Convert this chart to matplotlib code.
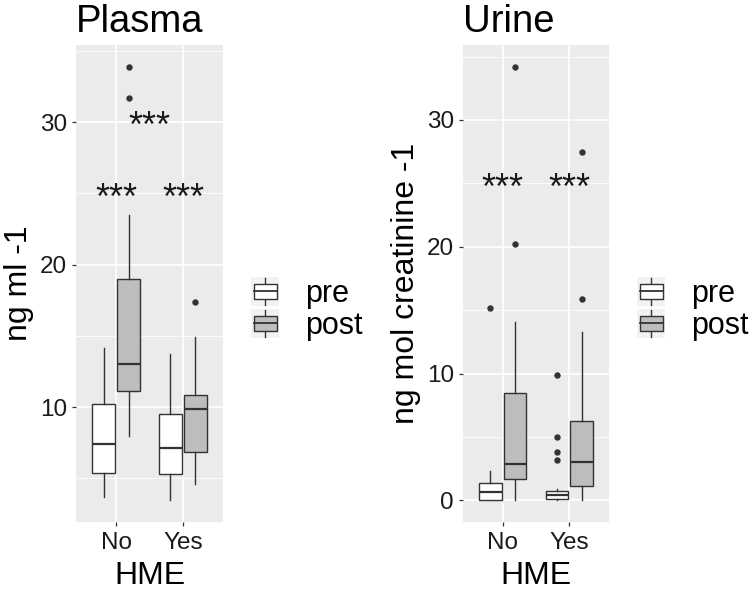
import matplotlib
matplotlib.use("Agg")
import matplotlib.pyplot as plt
from matplotlib.legend_handler import HandlerBase
from matplotlib.patches import Rectangle
from matplotlib.lines import Line2D
from matplotlib.ticker import MultipleLocator

plt.rcParams["font.family"] = ["Liberation Sans", "DejaVu Sans"]

# --- данные ---
categories = ["No", "Yes"]
groups = ["pre", "post"]
group_fill = {"pre": "#FFFFFF", "post": "#BDBDBD"}

# (whislo, q1, med, q3, whishi)
plasma_box = {
    ("No", "pre"): (3.7, 5.4, 7.4, 10.2, 14.15),
    ("No", "post"): (8.0, 11.1, 13.0, 19.0, 23.5),
    ("Yes", "pre"): (3.45, 5.3, 7.1, 9.5, 13.7),
    ("Yes", "post"): (4.6, 6.85, 9.85, 10.85, 14.9),
}
plasma_out = {
    ("No", "pre"): [],
    ("No", "post"): [33.9, 31.7],
    ("Yes", "pre"): [],
    ("Yes", "post"): [17.4],
}
plasma_stars = [(1.0, 25.4), (2.0, 25.4), (1.5, 30.4)]

urine_box = {
    ("No", "pre"): (0.05, 0.05, 0.65, 1.4, 2.3),
    ("No", "post"): (0.0, 1.65, 2.9, 8.5, 14.1),
    ("Yes", "pre"): (0.0, 0.08, 0.42, 0.73, 0.87),
    ("Yes", "post"): (0.0, 1.1, 3.0, 6.25, 13.25),
}
urine_out = {
    ("No", "pre"): [15.2],
    ("No", "post"): [34.2, 20.2],
    ("Yes", "pre"): [9.9, 5.0, 3.8, 3.2],
    ("Yes", "post"): [27.5, 15.9],
}
urine_stars = [(1.0, 25.45), (2.0, 25.45)]

PANEL_BG = "#EBEBEB"
LINE = "#333333"
TXT = "#1A1A1A"


class BoxKeyHandler(HandlerBase):
    """Ключ легенды в виде маленького боксплота (как в ggplot2)."""

    def create_artists(self, legend, orig_handle, xdescent, ydescent,
                       width, height, fontsize, trans):
        x0, y0 = -xdescent, -ydescent
        bg = Rectangle((x0, y0), width, height, fc="#F2F2F2", ec="none",
                       transform=trans)
        mx = width * 0.09
        box = Rectangle((x0 + mx, y0 + height * 0.235), width - 2 * mx,
                        height * 0.53, fc=orig_handle.get_facecolor(),
                        ec=LINE, lw=1.0, transform=trans)
        cx = x0 + width / 2
        wl = Line2D([cx, cx], [y0 + height * 0.04, y0 + height * 0.235],
                    color=LINE, lw=1.0, transform=trans)
        wh = Line2D([cx, cx], [y0 + height * 0.765, y0 + height * 0.96],
                    color=LINE, lw=1.0, transform=trans)
        med = Line2D([x0 + mx, x0 + width - mx], [y0 + height / 2] * 2,
                     color=LINE, lw=1.3, transform=trans)
        return [bg, wl, wh, box, med]


def draw_panel(ax, boxes, outliers, stars, title, ylabel, leg_anchor, fig):
    dodge = 0.75 / 2
    width = 0.75 * 0.9 / 2
    allvals = []
    for i, cat in enumerate(categories, start=1):
        for j, g in enumerate(groups):
            lo, q1, med, q3, hi = boxes[(cat, g)]
            fl = outliers[(cat, g)]
            allvals += [lo, hi] + fl
            pos = i + (j - 0.5) * dodge
            st = dict(whislo=lo, q1=q1, med=med, q3=q3, whishi=hi, fliers=fl)
            ax.bxp([st], positions=[pos], widths=width,
                   patch_artist=True, showcaps=False, manage_ticks=False,
                   boxprops=dict(facecolor=group_fill[g], edgecolor=LINE, lw=1.0),
                   whiskerprops=dict(color=LINE, lw=1.0),
                   medianprops=dict(color=LINE, lw=1.6),
                   flierprops=dict(marker="o", markerfacecolor=LINE,
                                   markeredgecolor=LINE, markersize=3.6))

    for x, y in stars:
        ax.annotate("***", (x, y), xytext=(0, -15), textcoords="offset points",
                    ha="center", va="baseline", fontsize=26, color=TXT, zorder=5)

    lo, hi = min(allvals), max(allvals)
    pad = (hi - lo) * 0.05
    ax.set_ylim(lo - pad, hi + pad)
    ax.set_xlim(0.4, 2.6)

    ax.set_facecolor(PANEL_BG)
    for s in ax.spines.values():
        s.set_visible(False)
    ax.yaxis.set_major_locator(MultipleLocator(10))
    ax.yaxis.set_minor_locator(MultipleLocator(5))
    ax.set_xticks([1, 2])
    ax.set_xticklabels(categories)
    ax.grid(which="major", color="white", lw=1.2, zorder=0)
    ax.grid(which="minor", axis="y", color="white", lw=0.6, zorder=0)
    ax.set_axisbelow(True)
    ax.tick_params(which="major", length=3, width=0.9, color=LINE,
                   labelsize=17.5, labelcolor=TXT, pad=3.5)
    ax.tick_params(axis="x", pad=4)
    ax.tick_params(which="minor", length=0)

    ax.set_title(title, loc="left", fontsize=27.5, color="black", pad=9)
    ax.set_xlabel("HME", fontsize=23, color="black", labelpad=5)
    ax.set_ylabel(ylabel, fontsize=23, color="black", labelpad=4)

    handles = [Rectangle((0, 0), 1, 1, fc=group_fill[g]) for g in groups]
    fig.legend(handles, groups, handler_map={Rectangle: BoxKeyHandler()},
               loc="upper left", bbox_to_anchor=leg_anchor, frameon=False,
               fontsize=22, handlelength=0.92, handleheight=1.08,
               handletextpad=0.85, labelspacing=0.0, borderpad=0,
               borderaxespad=0)


fig = plt.figure(figsize=(7.49, 5.90), dpi=100)
W, H = 749, 590
ax1 = fig.add_axes([76 / W, 1 - 522 / H, 147 / W, 477 / H])
ax2 = fig.add_axes([463 / W, 1 - 522 / H, 146 / W, 477 / H])

draw_panel(ax1, plasma_box, plasma_out, plasma_stars, "Plasma", "ng ml -1",
           (251 / W, 1 - 277 / H), fig)
draw_panel(ax2, urine_box, urine_out, urine_stars, "Urine",
           "ng mol creatinine -1", (637 / W, 1 - 277 / H), fig)

fig.savefig("out.png", dpi=100)
